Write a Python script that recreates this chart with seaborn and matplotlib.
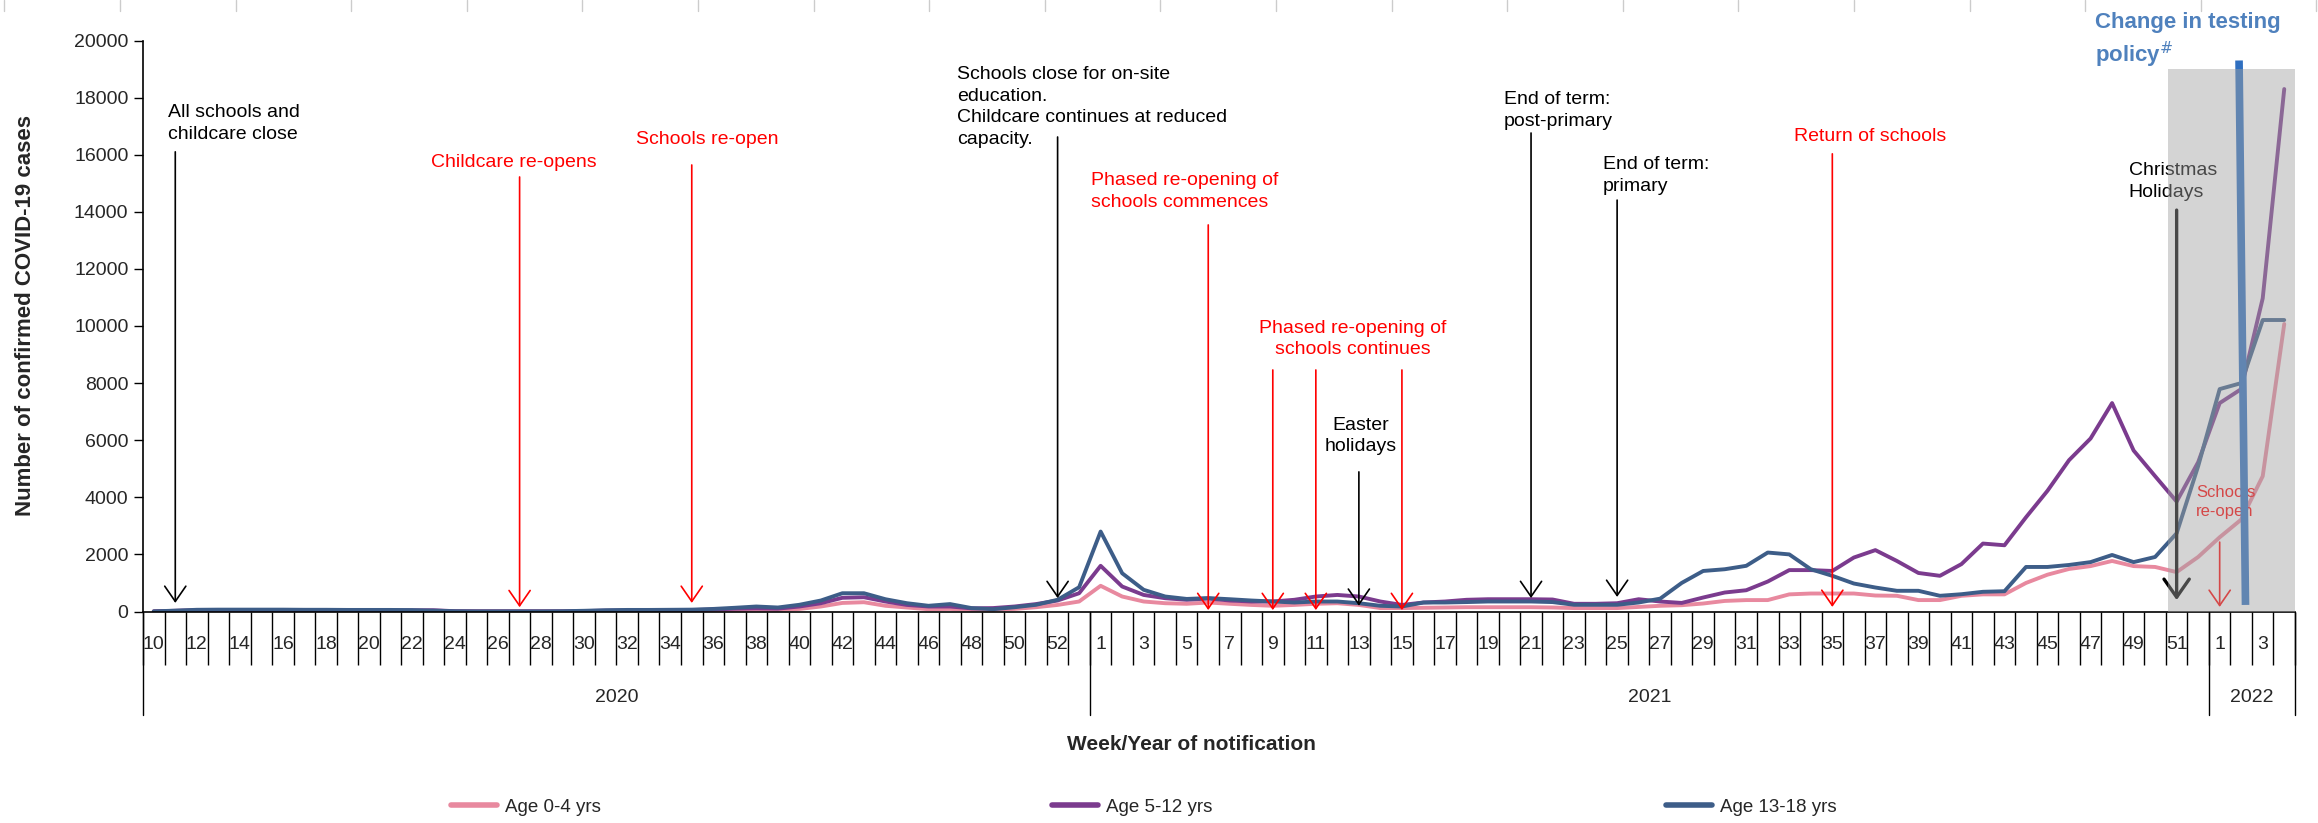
import numpy as np
import pandas as pd
import seaborn as sns
import matplotlib.pyplot as plt
from matplotlib.lines import Line2D
from matplotlib.patches import Rectangle
from matplotlib.transforms import blended_transform_factory

# week numbers on the category axis
weeks_2020 = list(range(10, 54))
weeks_2021 = list(range(1, 53))
weeks_2022 = [1, 2, 3, 4]
years = ["2020", "2021", "2022"]

# weekly confirmed cases
age0_4_2020 = [5, 20, 30, 30, 30, 30, 30, 25, 25, 20, 20, 20, 20, 15, 5, 5, 5, 5, 5, 5, 10, 20,
               25, 25, 30, 30, 40, 50, 60, 55, 90, 175, 300, 325, 200, 140, 80, 90, 60, 60, 90, 150, 230, 350]
age5_12_2020 = [5, 25, 45, 45, 45, 45, 45, 40, 40, 35, 35, 35, 40, 45, 10, 5, 5, 5, 5, 5, 15, 30,
                35, 40, 45, 50, 70, 100, 110, 100, 175, 290, 480, 500, 350, 230, 175, 175, 110, 120, 175, 260, 385, 640]
age13_18_2020 = [5, 30, 60, 65, 65, 65, 65, 60, 60, 55, 55, 55, 50, 30, 10, 5, 5, 5, 5, 10, 25, 45,
                 55, 55, 60, 65, 90, 130, 175, 140, 235, 385, 640, 640, 430, 290, 200, 260, 120, 80, 150, 235, 410, 850]

age0_4_2021 = [900, 525, 350, 290, 270, 315, 270, 230, 200, 230,
               270, 290, 230, 120, 120, 130, 140, 150, 150, 150,
               150, 140, 120, 120, 120, 160, 200, 220, 280, 370,
               400, 400, 600, 630, 630, 630, 560, 550, 400, 400,
               550, 600, 600, 1000, 1290, 1490, 1590, 1770, 1590, 1560,
               1380, 1910]
age5_12_2021 = [1600, 875, 580, 465, 410, 455, 385, 350, 350, 410,
                525, 580, 525, 350, 230, 315, 350, 410, 430, 430,
                430, 420, 270, 270, 290, 430, 350, 300, 490, 665,
                745, 1050, 1450, 1450, 1420, 1890, 2150, 1770, 1350, 1250,
                1660, 2380, 2320, 3300, 4230, 5300, 6060, 7300, 5640, 4740,
                3850, 5230]
age13_18_2021 = [2800, 1340, 760, 525, 440, 470, 430, 385, 350, 315,
                 350, 350, 290, 200, 175, 315, 315, 330, 350, 350,
                 350, 330, 235, 235, 235, 315, 450, 1000, 1420, 1480,
                 1600, 2065, 2000, 1480, 1250, 980, 840, 725, 725, 550,
                 605, 690, 710, 1560, 1560, 1630, 1730, 1980, 1730, 1910,
                 2740, 5090]

age0_4_2022 = [2600, 3220, 4740, 10070]
age5_12_2022 = [7300, 7790, 10970, 18300]
age13_18_2022 = [7790, 8000, 10210, 10210]

series_names = ["Age 0-4 yrs", "Age 5-12 yrs", "Age 13-18 yrs"]
series_colors = ["#e8899f", "#7b3b8e", "#3d5d88"]

# annotations: (category index, text, colour, text x, text y, ha, arrow top, arrow tip)
events = [
    (1, "All schools and\nchildcare close", "black", 0.66, 17100, "left", 16100, 300),
    (17, "Childcare re-opens", "red", 12.9, 15710, "left", 15220, 150),
    (25, "Schools re-open", "red", 22.4, 16520, "left", 15640, 300),
    (42, "Schools close for on-site\neducation.\nChildcare continues at reduced\ncapacity.", "black",
     37.34, 17670, "left", 16620, 470),
    (49, "Phased re-opening of\nschools commences", "red", 43.57, 14710, "left", 13540, 50),
    (52, None, "red", 0, 0, "left", 8460, 50),
    (54, "Phased re-opening of\nschools continues", "red", 55.7, 9545, "center", 8460, 50),
    (58, None, "red", 0, 0, "left", 8460, 50),
    (56, "Easter\nholidays", "black", 56.08, 6150, "center", 4890, 200),
    (64, "End of term:\npost-primary", "black", 62.73, 17550, "left", 16760, 470),
    (68, "End of term:\nprimary", "black", 67.33, 15270, "left", 14410, 510),
    (78, "Return of schools", "red", 76.2, 16620, "left", 16030, 160),
]

n20, n21, n22 = len(weeks_2020), len(weeks_2021), len(weeks_2022)
n = n20 + n21 + n22
idx = np.arange(n)
all_weeks = weeks_2020 + weeks_2021 + weeks_2022

data = pd.DataFrame({
    "idx": np.tile(idx, 3),
    "cases": (age0_4_2020 + age0_4_2021 + age0_4_2022
              + age5_12_2020 + age5_12_2021 + age5_12_2022
              + age13_18_2020 + age13_18_2021 + age13_18_2022),
    "age": np.repeat(series_names, n),
})

sns.set_theme(style="white")
plt.rcParams["font.family"] = ["Liberation Sans", "DejaVu Sans"]

W, H = 2318, 823
fig = plt.figure(figsize=(W / 100, H / 100), dpi=100)
ax = fig.add_axes([143 / W, 211.5 / H, 2152 / W, 571 / H])

sns.lineplot(data=data, x="idx", y="cases", hue="age", hue_order=series_names,
             palette=dict(zip(series_names, series_colors)), linewidth=2.8,
             legend=False, errorbar=None, ax=ax)
for ln in ax.lines:
    ln.set_solid_joinstyle("round")

ax.set_xlim(-0.5, n - 0.5)
ax.set_ylim(0, 20000)
ax.set_xlabel("")
ax.set_ylabel("")
for s in ["top", "right"]:
    ax.spines[s].set_visible(False)
for s in ["left", "bottom"]:
    ax.spines[s].set_color("black")
    ax.spines[s].set_linewidth(1.2)

ax.set_yticks(range(0, 20001, 2000))
ax.tick_params(axis="y", left=True, length=6.5, width=1, color="black", labelsize=14, pad=4)

# cell borders as major ticks, week labels as minor ticks
ax.set_xticks(np.arange(-0.5, n, 1.0))
ax.set_xticklabels([])
lab_pos = idx[::2]
ax.set_xticks(lab_pos, [str(all_weeks[i]) for i in lab_pos], minor=True)
ax.tick_params(axis="x", which="major", bottom=True, direction="out", length=38.5, width=1, color="black")
ax.tick_params(axis="x", which="minor", bottom=True, length=0, labelsize=14, pad=17.5)

trans = blended_transform_factory(ax.transData, ax.transAxes)
bounds = [-0.5, n20 - 0.5, n20 + n21 - 0.5, n - 0.5]
for b in bounds:
    ax.add_line(Line2D([b, b], [0, -0.181], transform=trans, color="black", lw=1, clip_on=False))
for yr, a, b in zip(years, bounds[:-1], bounds[1:]):
    ax.text((a + b) / 2, -0.150, yr, transform=trans, ha="center", va="center", fontsize=14)

ax.set_ylabel("Number of confirmed COVID-19 cases", fontsize=16, fontweight="bold")
ax.yaxis.set_label_coords(-0.0495, 0.518)
ax.set_xlabel("Week/Year of notification", fontsize=15, fontweight="bold")
ax.xaxis.set_label_coords(0.487, -0.216)

arrow_kw = dict(arrowstyle="->,head_length=0.55,head_width=0.38", mutation_scale=20,
                shrinkA=0, shrinkB=0, lw=1.2)
for x, txt, col, tx, ty, ha, top, tip in events:
    ax.annotate("", xy=(x, tip), xytext=(x, top),
                arrowprops=dict(color=col, **arrow_kw), zorder=4)
    if txt:
        ax.text(tx, ty, txt, color=col, fontsize=14, ha=ha, va="center", linespacing=1.35, zorder=4)

# Christmas holidays (thicker arrow) and 2022 school return
ax.annotate("", xy=(94, 400), xytext=(94, 14060),
            arrowprops=dict(arrowstyle="->,head_length=0.5,head_width=0.35", mutation_scale=26,
                            color="black", lw=2.4, shrinkA=0, shrinkB=0), zorder=4)
ax.text(91.78, 15060, "Christmas\nHolidays", color="black", fontsize=14, ha="left", va="center",
        linespacing=1.35, zorder=4)
ax.annotate("", xy=(96, 160), xytext=(96, 2430),
            arrowprops=dict(color="red", **arrow_kw), zorder=4)
ax.text(94.9, 3835, "Schools\nre-open", color="red", fontsize=12, ha="left", va="center",
        linespacing=1.35, zorder=4)

# change in testing policy
ax.plot([96.9, 97.2], [19300, 230], color="#2f6fc0", lw=5.5, solid_capstyle="butt", zorder=4)
ax.text(90.2, 19985, "Change in testing\npolicy$^{\\#}$", color="#4f81bd", fontsize=16,
        fontweight="bold", ha="left", va="center", linespacing=1.3, zorder=4, clip_on=False)

# shaded holiday period drawn over everything
ax.add_patch(Rectangle((93.6, 0), n - 0.5 - 93.6, 19000, facecolor="#a0a0a0", alpha=0.45,
                       edgecolor="none", zorder=6))

# faint ruler ticks along the top edge
for k in range(21):
    xx = (4.4 + k * 115.6) / W
    fig.add_artist(Line2D([xx, xx], [1, 1 - 11 / H], transform=fig.transFigure, color="#cccccc", lw=1))

for name, col, xl in zip(series_names, series_colors, [451, 1052, 1666]):
    fig.legend(handles=[Line2D([], [], color=col, lw=4)], labels=[name], loc="center left",
               bbox_to_anchor=(xl / W, 16 / H), frameon=False, borderpad=0, borderaxespad=0,
               handlelength=2.45, handletextpad=0.43, fontsize=13.5)

fig.savefig("out.png", dpi=100)
